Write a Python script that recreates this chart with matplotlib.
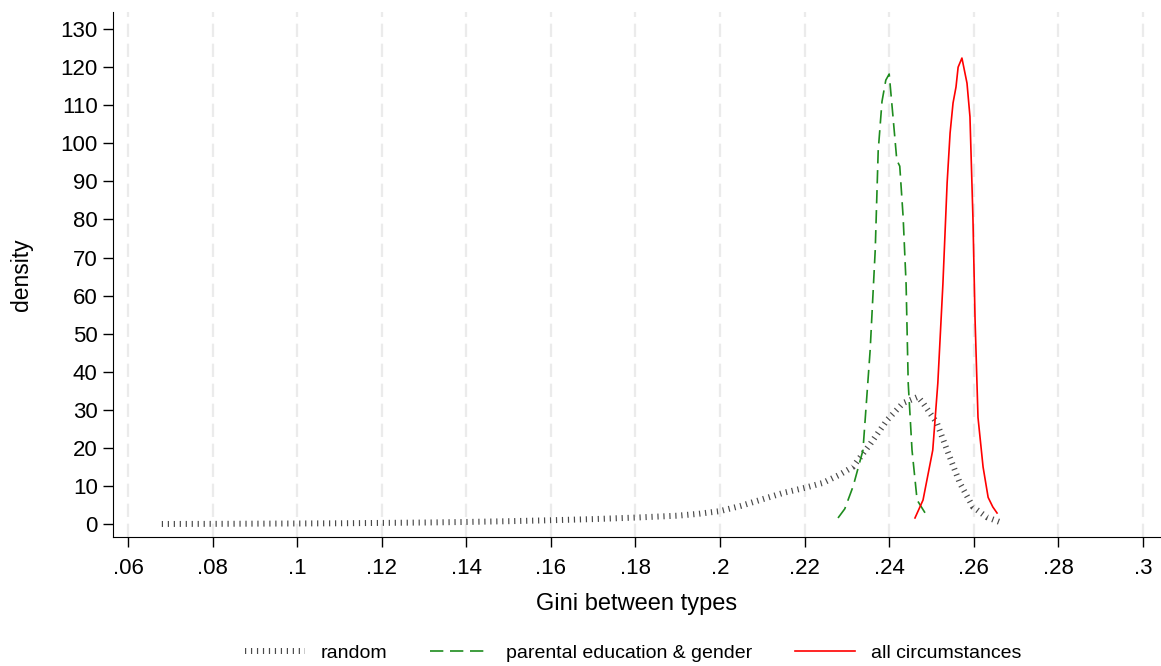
import matplotlib.pyplot as plt

plt.rcParams['font.family'] = ['Liberation Sans', 'DejaVu Sans']

# kernel density estimates of the between-type Gini
random_x = [.068, .08, .09, .10, .11, .12, .13, .14, .15, .16, .17, .18, .19, .195,
            .20, .205, .21, .215, .22, .2243, .228, .2314, .2355, .2395, .2433,
            .2468, .248, .2513, .2537, .2567, .2598, .2631, .2667]
random_y = [0.02, 0.05, 0.1, 0.15, 0.2, 0.3, 0.4, 0.55, 0.75, 1.0, 1.3, 1.7, 2.2, 2.7,
            3.4, 4.8, 6.5, 8.2, 9.5, 10.8, 12.8, 15, 21, 27.3, 31.8,
            33.4, 31.8, 26.5, 19.4, 10.8, 4.5, 1.8, 0.3]

parent_x = [.2279, .2295, .2315, .2338, .2355, .2367, .2374, .2383, .2392, .2400,
            .2409, .2418, .2425, .2433, .2440, .2445, .2454, .2466, .2485]
parent_y = [1.6, 4, 10, 19.4, 45.7, 72, 98, 111, 116.6, 118.2,
            107, 95.6, 94, 80.6, 63, 37, 19.4, 6.3, 2.9]

allc_x = [.2461, .2480, .2503, .2515, .2527, .2537, .2544, .2551, .2558, .2563,
          .2572, .2584, .2591, .2598, .2603, .2610, .2622, .2634, .2645, .2655]
allc_y = [1.6, 6.3, 19.4, 37, 63, 89.6, 102.7, 110.6, 114.8, 120,
          122.4, 115.8, 107, 80.6, 54, 28, 15, 7, 4.5, 2.9]

xticks = [.06, .08, .10, .12, .14, .16, .18, .20, .22, .24, .26, .28, .30]
xlabels = ['.06', '.08', '.1', '.12', '.14', '.16', '.18', '.2', '.22', '.24', '.26', '.28', '.3']
yticks = list(range(0, 131, 10))

fig = plt.figure(figsize=(11.61, 6.66), dpi=100)
ax = fig.add_axes([0.0973, 0.1937, 0.9017, 0.7883])

for xt in xticks:
    ax.axvline(xt, color='#ebebeb', lw=1.6, ls=(0, (6, 3)), zorder=0)

ax.plot(random_x, random_y, color='#4a4a4a', lw=4.3, ls=(0, (0.2, 0.8)),
        dash_capstyle='butt', label='random')
ax.plot(parent_x, parent_y, color='#1e8c1e', lw=1.2, ls=(0, (8, 4)),
        label='parental education & gender')
ax.plot(allc_x, allc_y, color='red', lw=1.2, label='all circumstances')

ax.set_xlim(.05645, .304)
ax.set_ylim(-3.4, 134.5)
ax.set_xticks(xticks)
ax.set_xticklabels(xlabels)
ax.set_yticks(yticks)
ax.tick_params(axis='both', labelsize=16, length=7, width=1, direction='out')
ax.tick_params(axis='x', pad=8)
ax.tick_params(axis='y', pad=4)
for s in ['top', 'right']:
    ax.spines[s].set_visible(False)
ax.set_xlabel('Gini between types', fontsize=17, labelpad=10)
ax.set_ylabel('density', fontsize=16.5, labelpad=20)

handles, labels = ax.get_legend_handles_labels()
fig.legend(handles, labels, loc='center', bbox_to_anchor=(0.545, 0.019), ncol=3,
           frameon=False, fontsize=14, handlelength=3.1, columnspacing=2.2,
           handletextpad=0.8)

fig.savefig('out.png', dpi=100)
